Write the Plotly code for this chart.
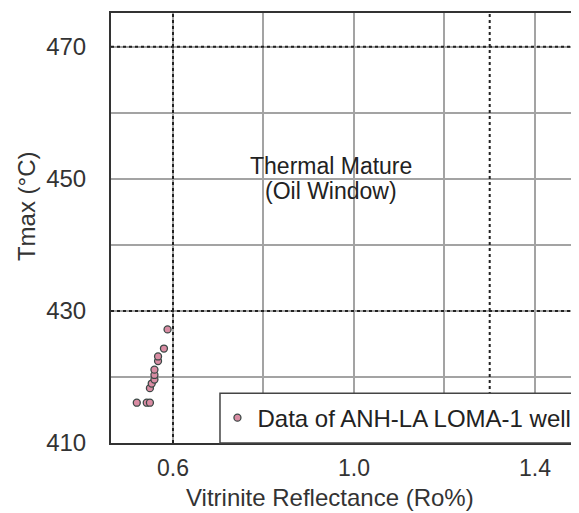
import plotly.graph_objects as go

# Vitrinite reflectance vs Tmax, ANH-LA LOMA-1 well
ro_percent = [0.520, 0.542, 0.549, 0.549, 0.553, 0.559, 0.559, 0.559, 0.567, 0.567, 0.580, 0.588]
tmax_c = [416.1, 416.1, 416.1, 418.3, 419.0, 419.6, 420.3, 421.1, 422.4, 423.1, 424.3, 427.2]

series_name = "Data of ANH-LA LOMA-1 well"
zone_lines = ["Thermal Mature", "(Oil Window)"]
zone_line_tmax = [451.9, 448.2]
zone_ro = 0.949
boundary_ro = [0.6, 1.3]
boundary_tmax = [430, 470]
x_ticks = [0.6, 1.0, 1.4]
y_ticks = [410, 430, 450, 470]

FONT = "Liberation Sans, Arial, sans-serif"
GRID = "#a3a3a3"
INK = "#333333"

# the page body adds an 8px offset, margins below account for it
fig = go.Figure()

fig.add_trace(
    go.Scatter(
        x=ro_percent,
        y=tmax_c,
        mode="markers",
        name=series_name,
        marker=dict(size=7, color="#d98ca3", line=dict(color="#3b4845", width=1.3)),
    )
)

for x in boundary_ro:
    fig.add_shape(
        type="line", xref="x", yref="paper", x0=x, x1=x, y0=0, y1=1,
        line=dict(color="#222222", width=2, dash="dot"),
    )
for y in boundary_tmax:
    fig.add_shape(
        type="line", xref="paper", yref="y", x0=0, x1=1, y0=y, y1=y,
        line=dict(color="#222222", width=2, dash="dot"),
    )

# legend frame (covers grid behind the legend entry)
fig.add_shape(
    type="rect", xref="paper", yref="paper", x0=0.2314, x1=1.05, y0=0, y1=0.1157,
    fillcolor="white", line=dict(color="#444444", width=1.5), layer="above",
)

for text, y in zip(zone_lines, zone_line_tmax):
    fig.add_annotation(
        x=zone_ro, y=y, xref="x", yref="y", text=text, showarrow=False,
        font=dict(family=FONT, size=23, color="#222222"),
    )

# axis titles as annotations so they sit where the original puts them
fig.add_annotation(
    x=0, y=0.551, xref="paper", yref="paper", xshift=-85, text="Tmax (°C)",
    textangle=-90, showarrow=False, xanchor="center", yanchor="middle",
    font=dict(family=FONT, size=24, color=INK),
)
fig.add_annotation(
    x=0.465, y=-0.1273, xref="paper", yref="paper", text="Vitrinite Reflectance (Ro%)",
    showarrow=False, xanchor="center", yanchor="middle",
    font=dict(family=FONT, size=24, color=INK),
)

fig.update_xaxes(
    range=[0.463, 1.504],
    tickvals=x_ticks,
    ticktext=[f"{v:.1f}" for v in x_ticks],
    showgrid=True, gridcolor=GRID, gridwidth=1.5,
    minor=dict(tick0=0.6, dtick=0.2, showgrid=True, gridcolor=GRID, gridwidth=1.5),
    showline=True, linecolor=INK, linewidth=2, mirror=True,
    ticks="", zeroline=False, ticklabelstandoff=3,
    tickfont=dict(family=FONT, size=23, color=INK),
)
fig.update_yaxes(
    range=[410, 475.1],
    tickvals=y_ticks,
    showgrid=True, gridcolor=GRID, gridwidth=1.5,
    minor=dict(tick0=410, dtick=10, showgrid=True, gridcolor=GRID, gridwidth=1.5),
    showline=True, linecolor=INK, linewidth=2, mirror=True,
    ticks="", zeroline=False, ticklabelstandoff=18,
    tickfont=dict(family=FONT, size=24, color=INK),
)

fig.update_layout(
    width=579,
    height=513,
    margin=dict(l=103, r=5, t=3, b=78),
    paper_bgcolor="white",
    plot_bgcolor="white",
    showlegend=True,
    legend=dict(
        x=0.226, y=0.058, xanchor="left", yanchor="middle",
        bgcolor="rgba(0,0,0,0)", borderwidth=0,
        font=dict(family=FONT, size=24, color="#222222"),
        itemwidth=30, tracegroupgap=0,
    ),
)

fig.write_html("out.html")
